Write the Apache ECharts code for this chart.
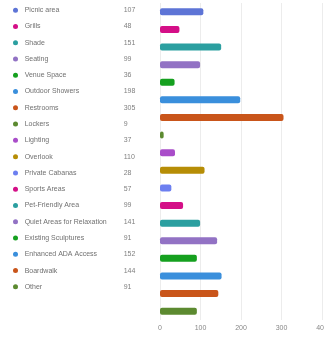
<!DOCTYPE html>
<html><head><meta charset="utf-8">
<script src="https://cdn.jsdelivr.net/npm/echarts@6/dist/echarts.min.js"></script>
<style>html,body{margin:0;padding:0;background:#fff}#c{width:324px;height:337px}</style>
</head><body><div id="c"></div>
<script>
const categories = ["Picnic area","Grills","Shade","Seating","Venue Space","Outdoor Showers","Restrooms","Lockers","Lighting","Overlook","Private Cabanas","Sports Areas","Pet-Friendly Area","Quiet Areas for Relaxation","Existing Sculptures","Enhanced ADA Access","Boardwalk","Other"];
const counts = [107,48,151,99,36,198,305,9,37,110,28,57,99,141,91,152,144,91];
const xTicks = [0,100,200,300,400];
const palette = ["#5d74d6","#d40f87","#2b9fa0","#9272c4","#15a01f","#3a8fdc","#c9551a","#5c8a30","#a94dc9","#b68d06","#6c7ff0","#d40f87","#2b9fa0","#9272c4","#15a01f","#3a8fdc","#c9551a","#5c8a30"];

const rich = {
  name:{fontSize:7,color:'#707070',width:99,fontFamily:'Liberation Sans'},
  val:{fontSize:7,color:'#808080',fontFamily:'Liberation Sans'}
};
palette.forEach((c,i)=>{ rich['d'+i] = {width:5,height:5,borderRadius:2.5,backgroundColor:c}; });

const chart = echarts.init(document.getElementById('c'),null,{renderer:'canvas'});
chart.setOption({
  animation:false,
  grid:[
    {left:150,width:1,top:2,height:293,outerBoundsMode:'none'},
    {left:160,right:2,top:3,bottom:17,outerBoundsMode:'none'}
  ],
  xAxis:[
    {gridIndex:0,type:'value',show:false,min:0,max:1},
    {gridIndex:1,type:'value',min:xTicks[0],max:xTicks[xTicks.length-1],interval:100,
     axisLine:{show:false},axisTick:{show:false},
     splitLine:{lineStyle:{color:'#ececec',width:1}},
     axisLabel:{fontSize:7,color:'#888',margin:5,fontFamily:'Liberation Sans'}}
  ],
  yAxis:[
    {gridIndex:0,type:'category',inverse:true,data:categories,
     axisLine:{show:false},axisTick:{show:false},
     axisLabel:{align:'left',margin:137,interval:0,rich:rich,
       formatter:(v,i)=>'{d'+i+'|}  {name|'+v+'}{val|'+counts[i]+'}'}},
    {gridIndex:1,type:'category',inverse:true,data:categories,
     axisLine:{show:false},axisTick:{show:false},axisLabel:{show:false}}
  ],
  series:[
    {type:'bar',xAxisIndex:1,yAxisIndex:1,barWidth:7,
     data:counts.map((v,i)=>({value:v,itemStyle:{color:palette[i],borderRadius:2}}))}
  ]
});
</script></body></html>
